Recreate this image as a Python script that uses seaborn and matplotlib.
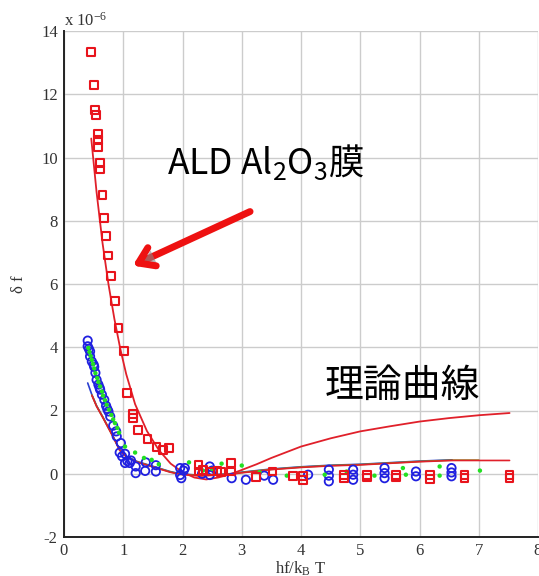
import numpy as np
import pandas as pd
import matplotlib
matplotlib.use("Agg")
import matplotlib.pyplot as plt
import matplotlib.patheffects as pe
import seaborn as sns

# values in units of 1e-6
red_x = [0.46, 0.50, 0.53, 0.54, 0.57, 0.57, 0.58, 0.61, 0.61, 0.65, 0.68, 0.71, 0.74, 0.80,
         0.86, 0.92, 1.01, 1.06, 1.17, 1.17, 1.25, 1.41, 1.56, 1.67, 1.77,
         2.27, 2.27, 2.35, 2.46, 2.59, 2.65, 2.82, 2.82, 3.24, 3.52, 3.87,
         4.04, 4.04, 4.73, 4.73, 5.11, 5.11, 5.61, 5.61, 6.17, 6.17, 6.76, 6.76, 7.52, 7.52]
red_y = [13.33, 12.30, 11.50, 11.35, 10.73, 10.55, 10.33, 9.83, 9.62, 8.81, 8.09, 7.51, 6.90, 6.24,
         5.47, 4.61, 3.89, 2.55, 1.90, 1.76, 1.39, 1.10, 0.84, 0.74, 0.81,
         0.28, 0.07, 0.12, 0.07, 0.10, 0.05, 0.34, 0.07, -0.10, 0.07, -0.06,
         -0.08, -0.19, -0.03, -0.13, -0.03, -0.12, -0.03, -0.12, -0.05, -0.17, -0.04, -0.13, -0.04, -0.14]

blue_x = [0.40, 0.40, 0.42, 0.44, 0.44, 0.47, 0.50, 0.51, 0.53, 0.55, 0.58, 0.60, 0.61, 0.64, 0.68,
          0.71, 0.73, 0.75, 0.78, 0.83, 0.88, 0.89, 0.96, 0.94, 0.98, 1.03, 1.03, 1.07, 1.11, 1.13,
          1.21, 1.21, 1.37, 1.38, 1.55, 1.55, 1.96, 1.96, 1.98, 2.02, 2.04, 2.33, 2.46, 2.46, 2.50,
          2.83, 3.07, 3.38, 3.53, 4.12, 4.47, 4.47, 4.47, 4.88, 4.88, 4.88, 5.41, 5.41, 5.41,
          5.94, 5.94, 6.54, 6.54, 6.54]
blue_y = [4.21, 4.03, 3.95, 3.87, 3.71, 3.55, 3.45, 3.38, 3.19, 2.97, 2.82, 2.72, 2.66, 2.50, 2.34,
          2.15, 2.05, 1.97, 1.81, 1.52, 1.34, 1.18, 0.97, 0.67, 0.55, 0.63, 0.34, 0.40, 0.34, 0.42,
          0.23, 0.02, 0.09, 0.36, 0.07, 0.27, 0.18, -0.04, -0.14, 0.10, 0.18, 0.00, 0.23, -0.04, 0.10,
          -0.14, -0.19, -0.06, -0.19, -0.03, 0.13, -0.06, -0.24, 0.13, -0.03, -0.19, 0.18, 0.02, -0.14,
          0.07, -0.08, 0.18, 0.04, -0.08]

green_x = [0.41, 0.43, 0.45, 0.47, 0.49, 0.51, 0.53, 0.56, 0.58, 0.61, 0.64, 0.66, 0.69, 0.72, 0.76,
           0.80, 0.83, 0.86, 0.90, 0.93, 1.03, 1.20, 1.35, 1.48, 1.60, 2.11, 2.34, 2.50, 2.66, 3.00,
           3.30, 3.76, 4.40, 4.77, 5.24, 5.72, 5.77, 6.34, 6.34, 7.02]
green_y = [3.98, 3.85, 3.72, 3.60, 3.47, 3.33, 3.18, 3.03, 2.90, 2.76, 2.60, 2.47, 2.33, 2.18, 2.03,
           1.86, 1.72, 1.60, 1.45, 1.30, 0.86, 0.67, 0.50, 0.44, 0.30, 0.36, 0.10, 0.15, 0.32, 0.26,
           0.05, -0.06, -0.03, 0.07, -0.06, 0.18, -0.03, 0.23, -0.06, 0.10]

# theory curves
th_red_x = [0.46, 0.55, 0.65, 0.75, 0.85, 0.95, 1.05, 1.2, 1.4, 1.6, 1.8, 2.0, 2.2, 2.4, 2.6,
            2.8, 3.0, 3.25, 3.5, 4.0, 4.5, 5.0, 5.5, 6.0, 6.5, 7.0, 7.52]
th_red_y = [10.6, 8.9, 7.3, 6.0, 4.9, 3.95, 3.15, 2.2, 1.35, 0.75, 0.32, 0.05, -0.12, -0.18, -0.12,
            -0.02, 0.12, 0.30, 0.50, 0.86, 1.12, 1.34, 1.50, 1.65, 1.76, 1.85, 1.92]

th_low_x = [0.40, 0.47, 0.55, 0.66, 0.83, 0.94, 1.05, 1.23, 1.51, 1.79, 1.96, 2.3, 2.8, 3.0, 3.5,
            4.0, 4.5, 5.0, 5.5, 6.0, 6.55, 7.0, 7.52]
th_low_y = [2.87, 2.50, 2.15, 1.78, 1.18, 0.76, 0.56, 0.39, 0.23, 0.07, 0.00, -0.05, 0.00, 0.05, 0.15,
            0.22, 0.27, 0.30, 0.35, 0.40, 0.44, 0.44, 0.44]

sns.set_theme(style="whitegrid")
plt.rcParams["mathtext.default"] = "regular"
plt.rcParams["axes.unicode_minus"] = False

fig = plt.figure(figsize=(5.39, 5.76), dpi=100)
ax = fig.add_axes([64 / 539, 39 / 576, 474 / 539, 506 / 576])

n_blue = 21  # blue theory line ends at 6.55
sns.lineplot(x=th_low_x[:n_blue], y=th_low_y[:n_blue], color="#2a3fd0", lw=1.2,
             sort=False, estimator=None, ax=ax)
sns.lineplot(x=th_low_x[1:22], y=[v - 0.01 for v in th_low_y[1:22]], color="#7a9a20", lw=1.2,
             sort=False, estimator=None, ax=ax)
sns.lineplot(x=th_low_x[1:], y=[v - 0.02 for v in th_low_y[1:]], color="#e0202a", lw=1.2,
             sort=False, estimator=None, ax=ax)
sns.lineplot(x=th_red_x, y=th_red_y, color="#e0202a", lw=1.3, sort=False, estimator=None, ax=ax)

sns.scatterplot(x=blue_x, y=blue_y, marker="o", s=36, facecolor="none", edgecolor="#2020e0",
                linewidth=1.3, ax=ax, zorder=3)
sns.scatterplot(x=green_x, y=green_y, marker="o", s=10, facecolor="#22e022", edgecolor="none",
                linewidth=0, ax=ax, zorder=4)
sns.scatterplot(x=red_x, y=red_y, marker="s", s=32, facecolor="none", edgecolor="#e8141c",
                linewidth=1.5, ax=ax, zorder=5)

ax.set_xlim(0, 8)
ax.set_ylim(-2, 14)
ax.set_xticks(range(0, 9))
ax.set_yticks(range(-2, 15, 2))
ax.grid(True, color="#cccccc", lw=1)
for s in ["top", "right"]:
    ax.spines[s].set_visible(False)
for s in ["left", "bottom"]:
    ax.spines[s].set_color("#222222")
    ax.spines[s].set_linewidth(1.4)
ax.tick_params(direction="inout", length=5, width=1, color="#222222", labelsize=12,
               labelcolor="#333333", pad=2)
for lab in ax.get_xticklabels() + ax.get_yticklabels():
    lab.set_family("Liberation Serif")

ax.set_xlabel(r"hf/k$_B$ T", family="Liberation Serif", fontsize=12, color="#333333", labelpad=0)
ax.set_ylabel(r"δ f", family="Liberation Serif", fontsize=12, color="#333333", labelpad=10)
ax.text(0.0, 1.003, r"x 10$^{-6}$", transform=ax.transAxes, ha="left", va="bottom",
        family="Liberation Serif", fontsize=12, color="#333333")

ax.text(1.74, 9.49, r"ALD Al$_2$O$_3$膜", family="Noto Sans CJK JP", fontsize=25.5,
        color="black", ha="left", va="baseline")
ax.text(4.40, 2.78, "理論曲線", family="Noto Sans CJK JP", fontsize=28,
        color="black", ha="left", va="center")

ax.annotate("", xy=(1.16, 6.58), xytext=(3.14, 8.29),
            arrowprops=dict(arrowstyle="->,head_length=0.9,head_width=0.6", lw=5,
                            color="#ee1111", shrinkA=0, shrinkB=0,
                            path_effects=[pe.SimplePatchShadow(offset=(2, -2), shadow_rgbFace="#888888", alpha=0.6),
                                          pe.Normal()]))

fig.savefig("out.png", dpi=100)
